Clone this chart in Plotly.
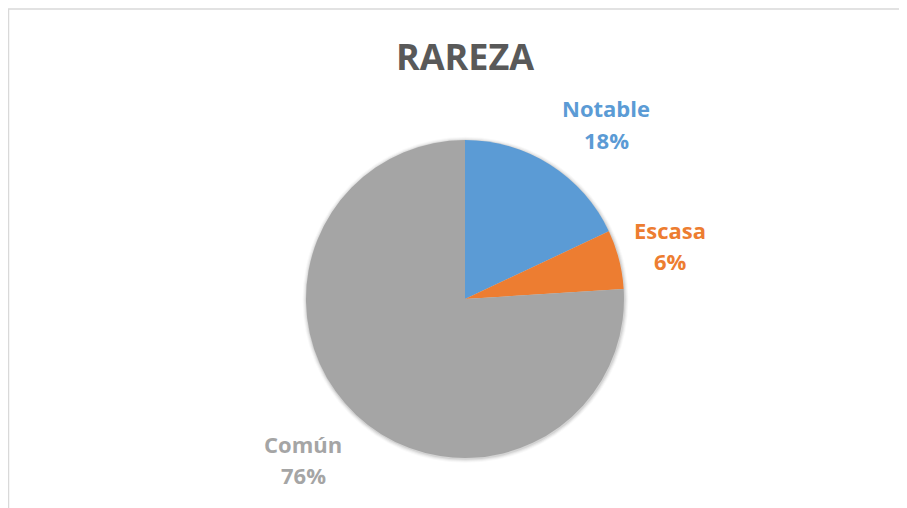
import plotly.graph_objects as go

# ---- data ----
categories = ["Notable", "Escasa", "Común"]
values = [18, 6, 76]
colors = ["#5B9BD5", "#ED7D31", "#A5A5A5"]
title_text = "RAREZA"

# ---- layout (screen px) ----
W, H = 907, 508
OFF = 8                        # page body margin of the html page
CX, CY, R = 465, 299, 159      # pie centre / radius
# centre of each two-line data label (best-fit placement, as in the source)
label_pos = {"Notable": (606, 124), "Escasa": (670, 245), "Común": (303, 459)}
FONT = "Open Sans"


def px(x):
    return (x - OFF) / W


def py(y):
    return 1 - (y - OFF) / H


def dom(cx, cy, r):
    return dict(x=[px(cx - r), px(cx + r)], y=[py(cy + r), py(cy - r)])


fig = go.Figure()

# soft shadow behind the pie
for k, a in ((4, 0.025), (3, 0.035), (2, 0.05), (1, 0.07)):
    fig.add_trace(go.Pie(
        values=[1], labels=[""], sort=False, textinfo="none",
        hoverinfo="skip", showlegend=False,
        marker=dict(colors=[f"rgba(0,0,0,{a})"], line=dict(width=0)),
        domain=dom(CX + 0.5, CY + 0.8, R + k),
    ))

fig.add_trace(go.Pie(
    labels=categories,
    values=values,
    sort=False,
    direction="clockwise",
    rotation=0,
    marker=dict(colors=colors, line=dict(width=0)),
    textinfo="none",
    hoverinfo="label+percent",
    showlegend=False,
    domain=dom(CX, CY, R),
))

total = sum(values)
annotations = []
for cat, val, col in zip(categories, values, colors):
    lx, ly = label_pos[cat]
    pct = f"{round(val / total * 100)}%"
    for txt, dy in ((cat, -15.5), (pct, 16)):
        annotations.append(dict(
            x=px(lx), y=py(ly + dy), xref="paper", yref="paper",
            text=f"<b>{txt}</b>", showarrow=False,
            xanchor="center", yanchor="middle",
            font=dict(family=FONT, size=22, color=col),
        ))

fig.update_layout(
    width=W, height=H,
    margin=dict(l=0, r=0, t=0, b=0),
    paper_bgcolor="white",
    plot_bgcolor="white",
    title=dict(
        text=f"<b>{title_text}</b>",
        x=px(CX), xref="paper", xanchor="center",
        y=py(57), yref="paper", yanchor="middle",
        font=dict(family=FONT, size=36, color="#595959"),
    ),
    annotations=annotations,
    shapes=[dict(
        type="rect", xref="paper", yref="paper",
        x0=px(8.5), x1=px(W + 40), y0=py(H + 40), y1=py(9),
        line=dict(color="#D9D9D9", width=1.5),
        fillcolor="rgba(0,0,0,0)", layer="below",
    )],
)

fig.write_html("out.html")
